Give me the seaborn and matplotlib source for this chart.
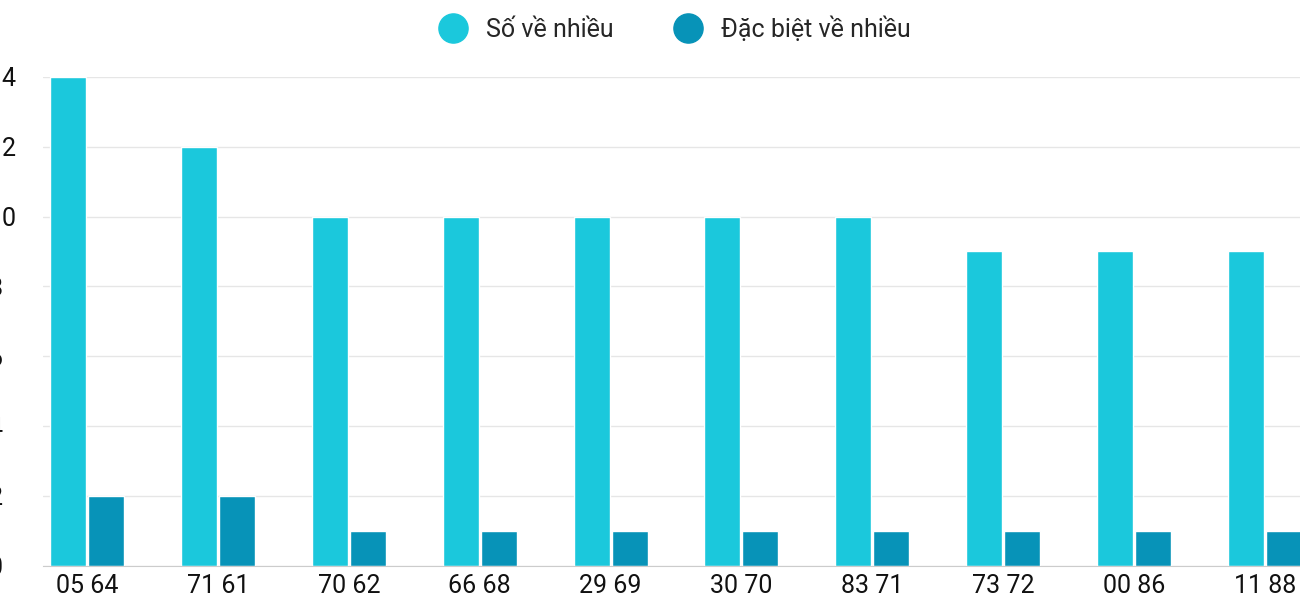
import pandas as pd
import matplotlib.pyplot as plt
import seaborn as sns

# data
pairs = ["05 64", "71 61", "70 62", "66 68", "29 69", "30 70", "83 71", "73 72", "00 86", "11 88"]
so_ve_nhieu = [14, 12, 10, 10, 10, 10, 10, 9, 9, 9]
dac_biet = [2, 2, 1, 1, 1, 1, 1, 1, 1, 1]
series = ["Số về nhiều", "Đặc biệt về nhiều"]
colors = ["#1bc8dc", "#0793b8"]

df = pd.DataFrame({
    "pair": pairs * 2,
    "value": so_ve_nhieu + dac_biet,
    "series": [series[0]] * len(pairs) + [series[1]] * len(pairs),
})

sns.set_style("white")
plt.rcParams["font.family"] = ["Roboto", "DejaVu Sans"]

fig = plt.figure(figsize=(13, 6), dpi=100)
ax = fig.add_axes([0.033, 0.057, 0.967, 0.815])

sns.barplot(data=df, x="pair", y="value", hue="series", palette=colors,
            saturation=1, width=0.58, gap=0.05, ax=ax, legend=False)

ax.set_xlim(-0.34, 9.27)
ax.set_ylim(0, 14)
ax.set_yticks(range(0, 15, 2))
ax.grid(axis="y", color="#e6e6e6", linewidth=1)
ax.set_axisbelow(True)
for s in ["left", "right", "top"]:
    ax.spines[s].set_visible(False)
ax.spines["bottom"].set_color("#cccccc")
ax.tick_params(axis="both", length=0, labelsize=18, colors="#111111")
ax.tick_params(axis="y", pad=12)
ax.tick_params(axis="x", pad=6)
for lbl in ax.get_yticklabels():
    lbl.set_horizontalalignment("left")
    lbl.set_x(-0.03)
ax.set_xlabel("")
ax.set_ylabel("")

handles = [plt.Line2D([], [], marker="o", linestyle="", markersize=21, color=c) for c in colors]
fig.legend(handles, series, loc="upper center", bbox_to_anchor=(0.515, 1.01), ncol=2,
           frameon=False, fontsize=18, handletextpad=0.3, columnspacing=2.0)

fig.savefig("out.png")
